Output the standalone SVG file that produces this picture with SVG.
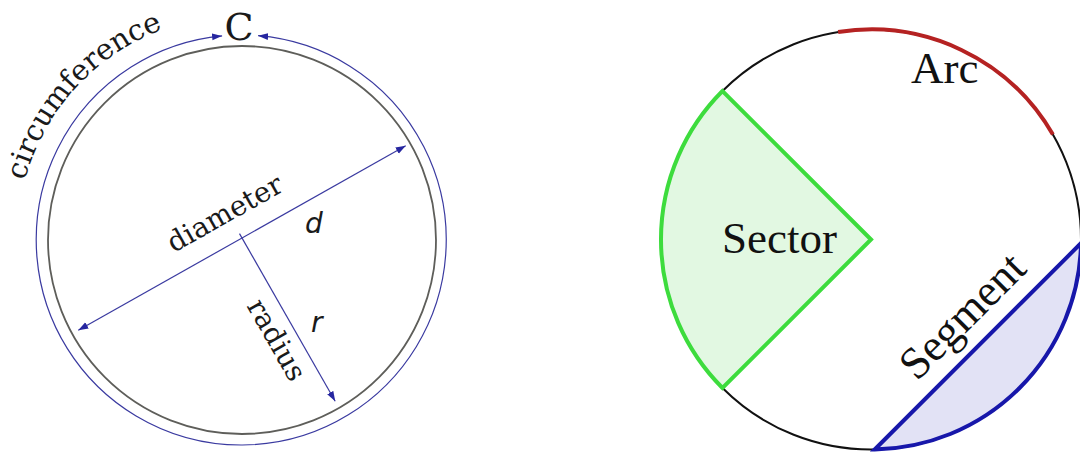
<svg xmlns="http://www.w3.org/2000/svg" width="1080" height="452" viewBox="0 0 1080 452">
<defs>
<marker id="ah" markerUnits="userSpaceOnUse" markerWidth="10" markerHeight="8" refX="10" refY="3.5" orient="auto-start-reverse">
<path d="M0,0 L10,3.5 L0,7 Z" fill="#2626a0"/>
</marker>
<path id="circPath" d="M 24.7,180.8 A 225,225 0 0 1 201.9,18.4"/>
</defs>
<style>
.lbl{font-family:"DejaVu Serif",serif;fill:#1a1a1a}
.var{font-family:"DejaVu Sans",sans-serif;font-style:italic;fill:#1a1a1a}
.big{font-family:"Liberation Serif",serif;font-size:45px;fill:#111}
.dim{fill:none;stroke:#3a3aa0;stroke-width:1.2}
</style>
<rect width="1080" height="452" fill="#fff"/>

<g id="circle-left">
<circle cx="242" cy="240" r="194" fill="none" stroke="#5e5e5a" stroke-width="1.8"/>
</g>

<g id="connectors">
<path class="dim" d="M 258.1,35.7 A 205,205 0 1 1 222.1,35.9" stroke="#55558e" stroke-width="1.6" marker-start="url(#ah)" marker-end="url(#ah)"/>
<line class="dim" x1="78.3" y1="330.3" x2="405.7" y2="145.7" marker-start="url(#ah)" marker-end="url(#ah)"/>
<line class="dim" x1="239.5" y1="233.6" x2="335.2" y2="401.3" marker-end="url(#ah)"/>
</g>

<g id="labels-left">
<text class="lbl" font-size="38" x="239" y="40" text-anchor="middle">C</text>
<text class="lbl" font-size="29"><textPath href="#circPath">circumference</textPath></text>
<text class="lbl" font-size="28" text-anchor="middle" transform="translate(229.5,221.6) rotate(-29.4)">diameter</text>
<text class="lbl" font-size="28" text-anchor="middle" transform="translate(268.5,344.5) rotate(60.3)">radius</text>
<text class="var" font-size="28" x="305" y="233">d</text>
<text class="var" font-size="28" x="311" y="332">r</text>
</g>

<g id="circle-right">
<circle cx="871" cy="239.5" r="210" fill="#fff" stroke="#111" stroke-width="2"/>
</g>
<g id="arc">
<path d="M 838.1,32.1 A 210,210 0 0 1 1052.9,134.5" fill="none" stroke="#b52222" stroke-width="4"/>
<text class="big" x="911" y="83">Arc</text>
</g>
<g id="sector">
<path d="M 871,239.5 L 722.5,91 A 210,210 0 0 0 722.5,388 Z" fill="#e2f8e2" stroke="#3ddc3d" stroke-width="4" stroke-linejoin="miter"/>
<text class="big" x="722" y="253">Sector</text>
</g>
<g id="segment">
<path d="M 1081,243.2 A 210,210 0 0 1 874.7,449.5 Z" fill="#e2e2f5" stroke="#1717aa" stroke-width="4"/>
<text class="big" font-size="42" transform="translate(917,382) rotate(-45)">Segment</text>
</g>
</svg>
